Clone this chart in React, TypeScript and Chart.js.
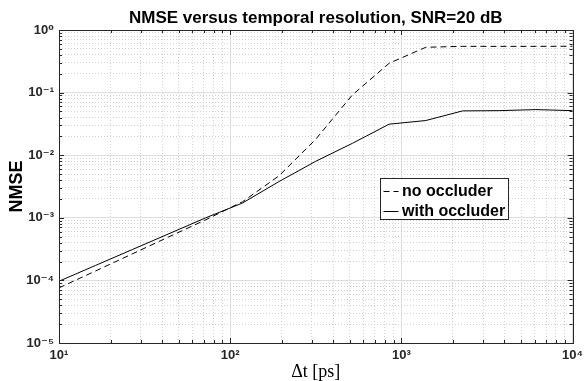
import React, { useEffect, useRef } from 'react';
import { Chart, registerables } from 'chart.js';

Chart.register(...registerables);

// Δt [ps] sample points (log-spaced)
const DT_PS = [10, 16.4, 26.8, 43.9, 72.0, 117.9, 193.1, 316.2, 517.9, 848.3, 1389.5, 2275.8, 3727.6, 6105.4, 10000];
const NMSE_NO_OCCLUDER = [7.6e-5, 1.42e-4, 2.65e-4, 4.97e-4, 9.3e-4, 1.8e-3, 4.7e-3, 1.8e-2, 9.2e-2, 0.294, 0.53, 0.548, 0.548, 0.548, 0.55];
const NMSE_WITH_OCCLUDER = [9.7e-5, 1.74e-4, 3.11e-4, 5.57e-4, 1.0e-3, 1.72e-3, 3.8e-3, 8.0e-3, 1.55e-2, 3.13e-2, 3.58e-2, 5.1e-2, 5.15e-2, 5.35e-2, 5.15e-2];
const SERIES_LABELS = ['no occluder', 'with occluder'];

const X_EXPONENTS = [1, 2, 3, 4];
const X_TICK_LABELS = ['10¹', '10²', '10³', '10⁴'];
const Y_EXPONENTS = [-5, -4, -3, -2, -1, 0];
const Y_TICK_LABELS = ['10⁻⁵', '10⁻⁴', '10⁻³', '10⁻²', '10⁻¹', '10⁰'];

const TITLE = 'NMSE versus temporal resolution, SNR=20 dB';
const X_TITLE = 'Δt [ps]';
const Y_TITLE = 'NMSE';

const SANS = "'Liberation Sans', Arial, 'DejaVu Sans', sans-serif";
const SERIF = "'Liberation Serif', 'DejaVu Serif', serif";

const isMajor = (v: number) => {
  const l = Math.log10(v);
  return Math.abs(l - Math.round(l)) < 1e-9;
};

const decadeTicks = (exps: number[]) => {
  const out: number[] = [];
  for (let i = 0; i < exps.length - 1; i++) {
    for (let m = 1; m <= 9; m++) out.push(Number(`${m}e${exps[i]}`));
  }
  out.push(Number(`1e${exps[exps.length - 1]}`));
  return out;
};

const MAJOR_GRID = '#dedede';
const MINOR_GRID = '#d2d2d2';

const boxPlugin = {
  id: 'matlabBox',
  afterDraw(chart: any) {
    const { ctx, chartArea: a, scales } = chart;
    const xs = scales.x;
    const ys = scales.y;
    ctx.save();
    ctx.strokeStyle = '#262626';
    ctx.lineWidth = 1;
    ctx.setLineDash([]);
    ctx.beginPath();
    for (const t of xs.ticks) {
      const px = Math.round(xs.getPixelForValue(t.value)) + 0.5;
      const len = isMajor(t.value) ? 5 : 3;
      ctx.moveTo(px, a.bottom);
      ctx.lineTo(px, a.bottom - len);
      ctx.moveTo(px, a.top);
      ctx.lineTo(px, a.top + len);
    }
    for (const t of ys.ticks) {
      const py = Math.round(ys.getPixelForValue(t.value)) + 0.5;
      const len = isMajor(t.value) ? 5 : 3;
      ctx.moveTo(a.left, py);
      ctx.lineTo(a.left + len, py);
      ctx.moveTo(a.right, py);
      ctx.lineTo(a.right - len, py);
    }
    ctx.stroke();
    ctx.strokeRect(Math.round(a.left) + 0.5, Math.round(a.top) + 0.5, Math.round(a.right - a.left), Math.round(a.bottom - a.top));

    // legend box
    const w = a.right - a.left;
    const h = a.bottom - a.top;
    const lx = Math.round(a.left + 0.626 * w) + 0.5;
    const ly = Math.round(a.top + 0.472 * h) + 0.5;
    const lw = 128;
    const lh = 41;
    ctx.fillStyle = '#ffffff';
    ctx.fillRect(lx, ly, lw, lh);
    ctx.strokeStyle = '#262626';
    ctx.strokeRect(lx, ly, lw, lh);
    const rows = [12.5, 32];
    chart.data.datasets.forEach((ds: any, i: number) => {
      const y = Math.round(ly + rows[i]) + 0.5;
      ctx.beginPath();
      ctx.strokeStyle = '#000';
      ctx.lineWidth = 1;
      ctx.setLineDash(ds.borderDash || []);
      ctx.moveTo(lx + 3, y);
      ctx.lineTo(lx + 18, y);
      ctx.stroke();
      ctx.setLineDash([]);
      ctx.fillStyle = '#000';
      ctx.font = `bold 16px ${SANS}`;
      ctx.textBaseline = 'middle';
      ctx.textAlign = 'left';
      ctx.fillText(ds.label, lx + 21.5, y + 0.5);
    });
    ctx.restore();
  },
};

export default function App() {
  const ref = useRef<HTMLCanvasElement>(null);

  useEffect(() => {
    document.body.style.margin = '0';
    const canvas = ref.current;
    if (!canvas) return;
    const xTicks = decadeTicks(X_EXPONENTS);
    const yTicks = decadeTicks(Y_EXPONENTS);

    const chart = new Chart(canvas, {
      type: 'line',
      data: {
        datasets: [
          {
            label: SERIES_LABELS[0],
            data: DT_PS.map((x, i) => ({ x, y: NMSE_NO_OCCLUDER[i] })),
            borderColor: '#000',
            borderWidth: 1,
            borderDash: [6, 4],
            pointRadius: 0,
            tension: 0,
          },
          {
            label: SERIES_LABELS[1],
            data: DT_PS.map((x, i) => ({ x, y: NMSE_WITH_OCCLUDER[i] })),
            borderColor: '#000',
            borderWidth: 1,
            pointRadius: 0,
            tension: 0,
          },
        ],
      },
      options: {
        animation: false,
        responsive: true,
        maintainAspectRatio: false,
        layout: { padding: { left: 0, right: 11, top: 0, bottom: 0 } },
        plugins: {
          legend: { display: false },
          tooltip: { enabled: false },
          title: {
            display: true,
            text: TITLE,
            fullSize: false,
            color: '#000',
            font: { family: SANS, size: 17, weight: 'bold', lineHeight: 1.2 },
            padding: { top: 8, bottom: 1.6 },
          },
        },
        scales: {
          x: {
            type: 'logarithmic',
            min: 10,
            max: 10000,
            afterBuildTicks: (s: any) => {
              s.ticks = xTicks.map((v) => ({ value: v, major: isMajor(v) }));
            },
            afterFit: (s: any) => {
              s.height = 38;
            },
            ticks: {
              autoSkip: false,
              maxRotation: 0,
              padding: 5,
              color: '#262626',
              font: { family: SANS, size: 13, weight: 'bold' },
              callback: (v: any) => {
                const val = Number(v);
                if (!isMajor(val)) return '';
                const e = Math.round(Math.log10(val));
                return X_TICK_LABELS[X_EXPONENTS.indexOf(e)];
              },
            },
            grid: {
              drawTicks: false,
              lineWidth: 1,
              color: (c: any) => (c.tick && isMajor(c.tick.value) ? MAJOR_GRID : MINOR_GRID),
            },
            border: {
              display: false,
              dash: (c: any) => (c.tick && !isMajor(c.tick.value) ? [1, 2] : []),
            },
            title: {
              display: true,
              text: X_TITLE,
              color: '#000',
              font: { family: SERIF, size: 18, lineHeight: 1 },
              padding: { top: 0, bottom: 0 },
            },
          },
          y: {
            type: 'logarithmic',
            min: 1e-5,
            max: 1,
            afterBuildTicks: (s: any) => {
              s.ticks = yTicks.map((v) => ({ value: v, major: isMajor(v) }));
            },
            afterFit: (s: any) => {
              s.width = 59;
            },
            ticks: {
              autoSkip: false,
              padding: 5,
              color: '#262626',
              font: { family: SANS, size: 13, weight: 'bold' },
              callback: (v: any) => {
                const val = Number(v);
                if (!isMajor(val)) return '';
                const e = Math.round(Math.log10(val));
                return Y_TICK_LABELS[Y_EXPONENTS.indexOf(e)];
              },
            },
            grid: {
              drawTicks: false,
              lineWidth: 1,
              color: (c: any) => (c.tick && isMajor(c.tick.value) ? MAJOR_GRID : MINOR_GRID),
            },
            border: {
              display: false,
              dash: (c: any) => (c.tick && !isMajor(c.tick.value) ? [1, 2] : []),
            },
            title: {
              display: true,
              text: Y_TITLE,
              color: '#000',
              font: { family: SANS, size: 18, weight: 'bold', lineHeight: 1.2 },
              padding: { top: 6, bottom: 0 },
            },
          },
        },
      },
      plugins: [boxPlugin],
    } as any);

    return () => chart.destroy();
  }, []);

  return (
    <div style={{ width: 588, height: 381, position: 'relative' }}>
      <canvas ref={ref} />
    </div>
  );
}
